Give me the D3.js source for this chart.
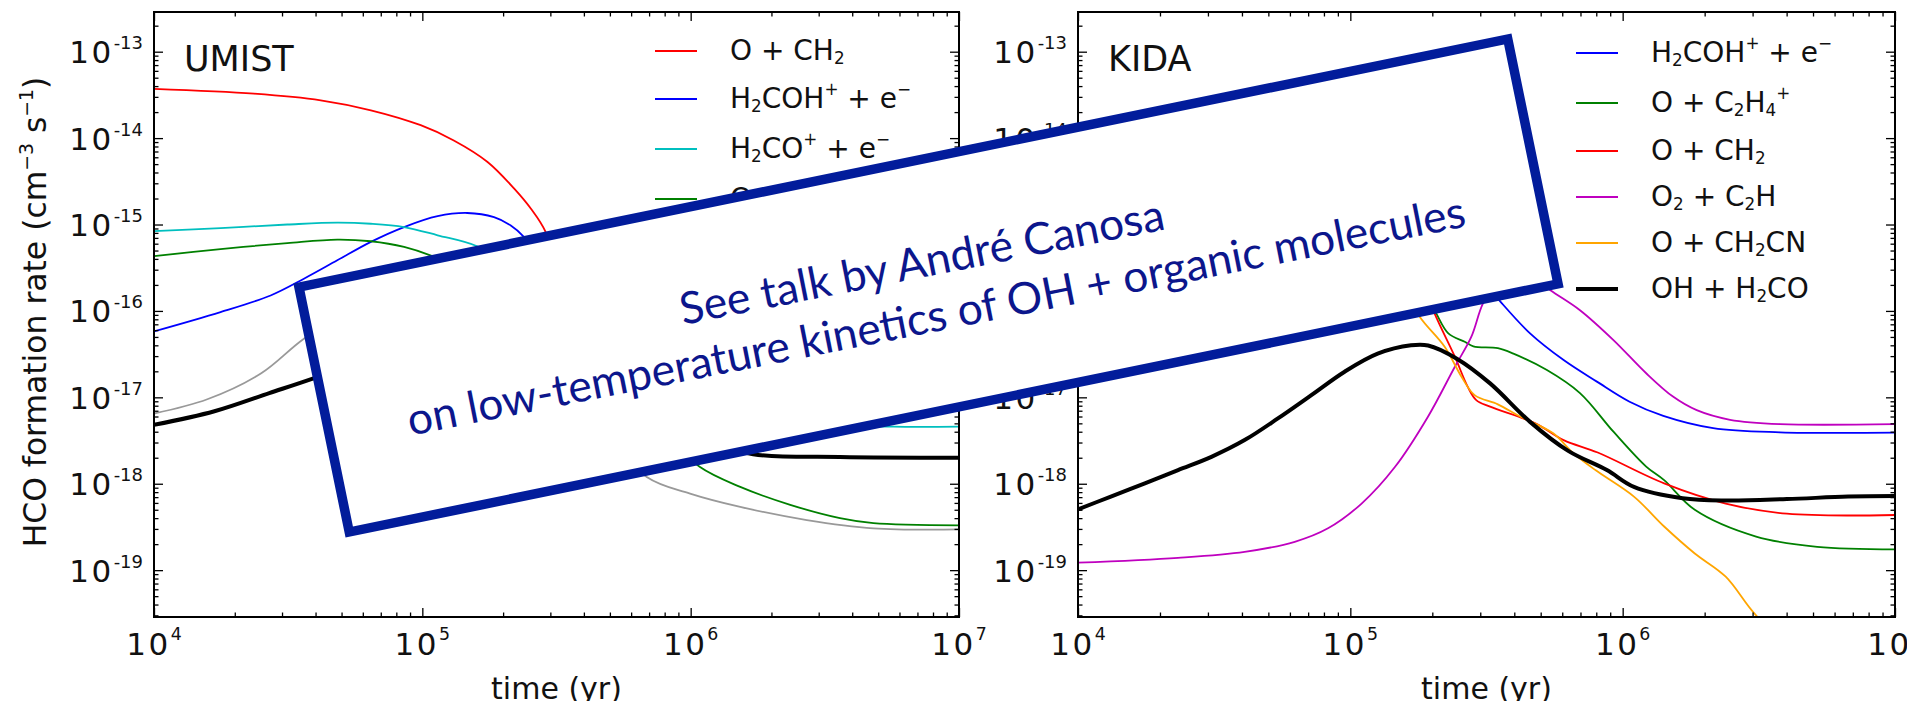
<!DOCTYPE html>
<html><head><meta charset="utf-8">
<script src="https://cdn.jsdelivr.net/npm/d3@7"></script>
<style>
body{margin:0;background:#fff;}
svg{display:block;}
text{font-family:"DejaVu Sans",sans-serif;white-space:pre;}
</style>
</head><body>
<svg id="chart" width="1907" height="701"></svg>
<script>
// ---------------- data ----------------
const xTicks = [1e4, 1e5, 1e6, 1e7];
const xTickExp = ["4", "5", "6", "7"];
const yTicks = [1e-13, 1e-14, 1e-15, 1e-16, 1e-17, 1e-18, 1e-19];
const yTickExp = ["-13", "-14", "-15", "-16", "-17", "-18", "-19"];
const panelTitles = ["UMIST", "KIDA"];
const xAxisLabel = "time (yr)";
const yAxisLabel = "HCO formation rate (cm^{−3} s^{−1})";
const noteLines = ["See talk by André Canosa", "on low-temperature kinetics of OH + organic molecules"];

// UMIST panel
const umistLabels = ["O + CH_2", "H_2COH^+ + e^−", "H_2CO^+ + e^−", "O + C_2H_4^+", "O + C_2H_3", "OH + H_2CO"];
const umistOCH2 = [[1e4,3.72e-14],[2.36e4,3.27e-14],[4.18e4,2.74e-14],[6.43e4,2.10e-14],[9.86e4,1.41e-14],[1.31e5,9.4e-15],[1.75e5,5.3e-15],[2.20e5,2.6e-15],[2.54e5,1.52e-15],[2.88e5,8.2e-16],[3.31e5,2.0e-16],[3.98e5,6.3e-17],[6.3e5,2.5e-17],[1.58e6,1.6e-17],[1e7,1.4e-17]];
const umistH2COH = [[1e4,5.8e-17],[1.77e4,9.7e-17],[2.72e4,1.51e-16],[3.62e4,2.36e-16],[4.82e4,3.85e-16],[6.43e4,6.3e-16],[8.55e4,9.35e-16],[1.14e5,1.25e-15],[1.47e5,1.36e-15],[1.85e5,1.22e-15],[2.13e5,9.8e-16],[2.39e5,7.2e-16],[2.82e5,3.5e-16],[3.55e5,1.26e-16],[5.0e5,5.0e-17],[1e6,3.2e-17],[1e7,2.8e-17]];
const umistH2CO = [[1e4,8.4e-16],[1.77e4,9.1e-16],[3.14e4,1.0e-15],[4.82e4,1.05e-15],[6.43e4,1.02e-15],[8.55e4,9.35e-16],[1.14e5,7.5e-16],[1.60e5,5.6e-16],[2.51e5,2.5e-16],[5.0e5,5.0e-17],[1e6,1.26e-17],[2.0e6,6.3e-18],[3.55e6,4.8e-18],[5.69e6,4.57e-18],[1e7,4.57e-18]];
const umistOC2H4 = [[1e4,4.3e-16],[1.77e4,5.2e-16],[3.14e4,6.1e-16],[4.82e4,6.7e-16],[6.43e4,6.4e-16],[8.55e4,5.5e-16],[1.09e5,4.3e-16],[1.58e5,2.5e-16],[2.82e5,6.3e-17],[5.0e5,1.26e-17],[7.9e5,4.0e-18],[1.08e6,1.57e-18],[1.53e6,9.2e-19],[2.35e6,5.7e-19],[3.6e6,4.0e-19],[4.8e6,3.5e-19],[1e7,3.3e-19]];
const umistOC2H3 = [[1e4,6.5e-18],[1.58e4,9.5e-18],[2.51e4,1.9e-17],[3.63e4,4.8e-17],[6.3e4,1.4e-16],[1e5,2.2e-16],[1.58e5,2.0e-16],[2.82e5,5.0e-17],[4.47e5,5.0e-18],[6.86e5,1.2e-18],[9.95e5,7.7e-19],[1.53e6,5.4e-19],[2.71e6,3.8e-19],[4.8e6,3.05e-19],[1e7,2.96e-19]];
const umistOHH2CO = [[1e4,4.8e-18],[1.68e4,6.9e-18],[2.69e4,1.12e-17],[3.93e4,1.66e-17],[6.3e4,2.8e-17],[1e5,4.5e-17],[1.58e5,5.0e-17],[3.16e5,2.5e-17],[6.3e5,7.9e-18],[1.12e6,3.2e-18],[1.71e6,2.2e-18],[3.6e6,2.04e-18],[1e7,2.0e-18]];

// KIDA panel
const kidaLabels = ["H_2COH^+ + e^−", "O + C_2H_4^+", "O + CH_2", "O_2 + C_2H", "O + CH_2CN", "OH + H_2CO"];
const kidaH2COH = [[1e4,7.9e-17],[2e4,1.4e-16],[3.98e4,3.2e-16],[7.9e4,7.1e-16],[1.26e5,1.12e-15],[1.78e5,1.12e-15],[2.51e5,5.0e-16],[3.16e5,2.0e-16],[3.55e5,1.29e-16],[4.57e5,5.5e-17],[6.07e5,2.7e-17],[8.04e5,1.52e-17],[1.06e6,8.9e-18],[1.41e6,6.1e-18],[2.15e6,4.4e-18],[3.78e6,3.94e-18],[1e7,3.9e-18]];
const kidaOC2H4 = [[1e4,2.0e-16],[3.16e4,2.8e-16],[1e5,3.5e-16],[1.58e5,2.8e-16],[1.9e5,1.6e-16],[2.07e5,9.3e-17],[2.29e5,5.5e-17],[2.63e5,4.4e-17],[2.83e5,3.9e-17],[3.48e5,3.7e-17],[3.97e5,3.2e-17],[5.27e5,2.07e-17],[6.97e5,1.12e-17],[9.25e5,4.0e-18],[1.22e6,1.58e-18],[1.42e6,1.1e-18],[1.84e6,5.0e-19],[3.09e6,2.45e-19],[5.18e6,1.86e-19],[1e7,1.74e-19]];
const kidaOCH2 = [[1e4,4.0e-15],[3.16e4,3.2e-15],[1e5,1.6e-15],[1.58e5,6.3e-16],[1.86e5,2.0e-16],[2.04e5,9.3e-17],[2.42e5,2.95e-17],[2.7e5,1.32e-17],[2.9e5,9.3e-18],[3.26e5,7.8e-18],[4.78e5,5.0e-18],[6.07e5,3.2e-18],[8.1e5,2.3e-18],[1.42e6,1.01e-18],[2.39e6,5.9e-19],[4.01e6,4.5e-19],[1e7,4.35e-19]];
const kidaO2C2H = [[1e4,1.22e-19],[2.33e4,1.39e-19],[4.09e4,1.63e-19],[6.25e4,2.13e-19],[8.28e4,3.05e-19],[1.1e5,5.9e-19],[1.46e5,1.57e-18],[1.93e5,6.0e-18],[2.42e5,2.26e-17],[2.78e5,5.0e-17],[3.07e5,1.22e-16],[3.55e5,2.5e-16],[4.17e5,3.2e-16],[5.41e5,1.75e-16],[6.97e5,1.02e-16],[9.25e5,4.6e-17],[1.22e6,1.9e-17],[1.53e6,1.02e-17],[1.87e6,7.1e-18],[2.48e6,5.5e-18],[3.78e6,4.9e-18],[1e7,4.9e-18]];
const kidaOCH2CN = [[1e4,1.0e-15],[3.16e4,8.0e-16],[1e5,4.0e-16],[1.58e5,1.8e-16],[1.8e5,8.5e-17],[2.22e5,3.85e-17],[2.56e5,1.73e-17],[2.86e5,1.06e-17],[3.48e5,8.3e-18],[4.2e5,6.0e-18],[5.56e5,3.83e-18],[6.55e5,2.3e-18],[7.94e5,1.44e-18],[1.1e6,7.1e-19],[1.42e6,3.2e-19],[1.84e6,1.56e-19],[2.39e6,8.4e-20],[3.09e6,3.0e-20],[3.98e6,1.6e-20]];
const kidaOHH2CO = [[1e4,5.06e-19],[1.32e4,7.1e-19],[1.76e4,1.01e-18],[2.33e4,1.44e-18],[3.09e4,2.05e-18],[4.09e4,3.2e-18],[5.42e4,5.7e-18],[7.19e4,1.06e-17],[9.53e4,1.98e-17],[1.26e5,3.2e-17],[1.67e5,4.0e-17],[1.93e5,3.98e-17],[2.46e5,2.8e-17],[3.26e5,1.45e-17],[4.57e5,5.2e-18],[6.31e5,2.4e-18],[8.75e5,1.44e-18],[1.1e6,9.2e-19],[1.66e6,6.8e-19],[2.39e6,6.4e-19],[4.01e6,6.65e-19],[6.73e6,7.1e-19],[1e7,7.2e-19]];

// ---------------- styles / layout ----------------
const umistColors = ["#ff0000", "#0000ff", "#00bfbf", "#008000", "#999999", "#000000"];
const kidaColors  = ["#0000ff", "#008000", "#ff0000", "#bf00bf", "#ffa500", "#000000"];
const umistWidths = [1.8, 1.8, 1.8, 1.8, 1.8, 4];
const kidaWidths  = [1.8, 1.8, 1.8, 1.8, 1.8, 4];

const svg = d3.select("#chart");
const yDomain = [2.87e-20, 2.88e-13];
const plotTop = 12, plotBottom = 617;

function parseRich(s) {
  const segs = []; let i = 0, buf = "";
  while (i < s.length) {
    const c = s[i];
    if (c === "_" || c === "^") {
      if (buf) { segs.push({t: buf, k: "n"}); buf = ""; }
      let txt;
      if (s[i + 1] === "{") { const j = s.indexOf("}", i + 2); txt = s.slice(i + 2, j); i = j + 1; }
      else { txt = s[i + 1]; i += 2; }
      segs.push({t: txt, k: c === "_" ? "sub" : "sup"});
    } else { buf += c; i++; }
  }
  if (buf) segs.push({t: buf, k: "n"});
  return segs;
}
function addRich(textSel, str, size, ratio, supShift, subShift, spacing) {
  let cur = 0;
  parseRich(str).forEach(sg => {
    const target = sg.k === "sup" ? -supShift : sg.k === "sub" ? subShift : 0;
    const ts = textSel.append("tspan").attr("dy", target - cur)
      .attr("font-size", sg.k === "n" ? size : size * ratio).text(sg.t);
    if (spacing && sg.k === "n") ts.attr("letter-spacing", spacing);
    cur = target;
  });
}

function minorsBetween(lo, hi) {
  const out = [];
  for (let e = Math.floor(Math.log10(lo)) - 1; e <= Math.ceil(Math.log10(hi)); e++) {
    for (let m = 2; m <= 9; m++) {
      const v = m * Math.pow(10, e);
      if (v > lo && v < hi) out.push(v);
    }
  }
  return out;
}

function drawPanel(cfg) {
  const x = d3.scaleLog().domain([1e4, 1e7]).range([cfg.left, cfg.right]);
  const y = d3.scaleLog().domain(yDomain).range([plotBottom, plotTop]);
  const g = svg.append("g");
  const clipId = "clip" + cfg.name;
  g.append("clipPath").attr("id", clipId).append("rect")
    .attr("x", cfg.left).attr("y", plotTop).attr("width", cfg.right - cfg.left).attr("height", plotBottom - plotTop);

  const line = d3.line().x(d => x(d[0])).y(d => y(d[1])).curve(d3.curveCatmullRom.alpha(0.5));
  const lg = g.append("g").attr("clip-path", `url(#${clipId})`);
  cfg.series.forEach((s, i) => {
    lg.append("path").datum(s).attr("d", line).attr("fill", "none")
      .attr("stroke", cfg.colors[i]).attr("stroke-width", cfg.widths[i])
      .attr("stroke-linejoin", "round").attr("stroke-linecap", "round");
  });

  const xMinor = minorsBetween(1e4, 1e7);
  const yMinor = minorsBetween(yDomain[0], yDomain[1]);
  const addAxis = (axis, tr) => {
    const a = g.append("g").attr("transform", tr).call(axis);
    a.select(".domain").remove();
    a.selectAll("line").attr("stroke", "#000").attr("stroke-width", 1.3);
  };
  addAxis(d3.axisBottom(x).tickValues(xTicks).tickSize(-9).tickFormat(""), `translate(0,${plotBottom})`);
  addAxis(d3.axisBottom(x).tickValues(xMinor).tickSize(-4.5).tickFormat(""), `translate(0,${plotBottom})`);
  addAxis(d3.axisTop(x).tickValues(xTicks).tickSize(-9).tickFormat(""), `translate(0,${plotTop})`);
  addAxis(d3.axisTop(x).tickValues(xMinor).tickSize(-4.5).tickFormat(""), `translate(0,${plotTop})`);
  addAxis(d3.axisLeft(y).tickValues(yTicks).tickSize(-9).tickFormat(""), `translate(${cfg.left},0)`);
  addAxis(d3.axisLeft(y).tickValues(yMinor).tickSize(-4.5).tickFormat(""), `translate(${cfg.left},0)`);
  addAxis(d3.axisRight(y).tickValues(yTicks).tickSize(-9).tickFormat(""), `translate(${cfg.right},0)`);
  addAxis(d3.axisRight(y).tickValues(yMinor).tickSize(-4.5).tickFormat(""), `translate(${cfg.right},0)`);

  g.append("rect").attr("x", cfg.left).attr("y", plotTop).attr("width", cfg.right - cfg.left)
    .attr("height", plotBottom - plotTop).attr("fill", "none").attr("stroke", "#000").attr("stroke-width", 2);

  xTicks.forEach((t, i) => {
    const tx = g.append("text").attr("x", x(t)).attr("y", 655).attr("text-anchor", "middle").attr("fill", "#111");
    addRich(tx, "10^{" + xTickExp[i] + "}", 31, 0.56, 15, 0, 2.5);
  });
  yTicks.forEach((v, i) => {
    const tx = g.append("text").attr("x", cfg.left - 11).attr("y", y(v) + 11.5).attr("text-anchor", "end").attr("fill", "#111");
    addRich(tx, "10^{" + yTickExp[i] + "}", 31, 0.58, 14, 0, 2.5);
  });

  g.append("text").attr("x", (cfg.left + cfg.right) / 2).attr("y", 699).attr("text-anchor", "middle")
    .attr("font-size", 30).attr("fill", "#111").text(xAxisLabel);

  g.append("text").attr("x", cfg.left + 30).attr("y", 71).attr("font-size", 35).attr("fill", "#111").text(cfg.title);

  let yy = 28;
  cfg.labels.forEach((lab, i) => {
    const h = 46 + (lab.indexOf("^") >= 0 ? 4 : 0);
    const cy = yy + h / 2; yy += h;
    g.append("line").attr("x1", cfg.legX).attr("x2", cfg.legX + 42).attr("y1", cy).attr("y2", cy)
      .attr("stroke", cfg.colors[i]).attr("stroke-width", cfg.widths[i]);
    const tx = g.append("text").attr("x", cfg.legX + 75).attr("y", cy + 9).attr("fill", "#111");
    addRich(tx, lab, 28, 0.6, 13, 4);
  });
}

drawPanel({name: "umist", title: panelTitles[0], left: 154, right: 959, legX: 655,
  labels: umistLabels, colors: umistColors, widths: umistWidths,
  series: [umistOCH2, umistH2COH, umistH2CO, umistOC2H4, umistOC2H3, umistOHH2CO]});
drawPanel({name: "kida", title: panelTitles[1], left: 1078, right: 1895, legX: 1576,
  labels: kidaLabels, colors: kidaColors, widths: kidaWidths,
  series: [kidaH2COH, kidaOC2H4, kidaOCH2, kidaO2C2H, kidaOCH2CN, kidaOHH2CO]});

const yl = svg.append("text").attr("transform", "translate(46,312) rotate(-90)")
  .attr("text-anchor", "middle").attr("fill", "#111");
addRich(yl, yAxisLabel, 31.4, 0.6, 13, 0);

const box = svg.append("g").attr("transform", "translate(928.5,285.5) rotate(-11.6)");
box.append("rect").attr("x", -617).attr("y", -125).attr("width", 1234).attr("height", 250)
  .attr("fill", "#fff").attr("stroke", "#021c9b").attr("stroke-width", 9.5).attr("stroke-linejoin", "miter");
const tg = svg.append("g").attr("transform", "translate(928.5,285.5) rotate(-11.2)");
const t1 = tg.append("text").attr("x", -2).attr("y", -9).attr("text-anchor", "middle")
  .style("font-family", "Lato, 'Open Sans', sans-serif").attr("font-size", 48).attr("fill", "#0c168c").text(noteLines[0]);
const t2 = tg.append("text").attr("x", 1.5).attr("y", 46.7).attr("text-anchor", "middle")
  .style("font-family", "Lato, 'Open Sans', sans-serif").attr("font-size", 48).attr("fill", "#0c168c").text(noteLines[1]);
const len2 = t2.node().getComputedTextLength();
const fs = 48 * 1078 / len2;
t1.attr("font-size", fs); t2.attr("font-size", fs);
</script>
</body></html>
